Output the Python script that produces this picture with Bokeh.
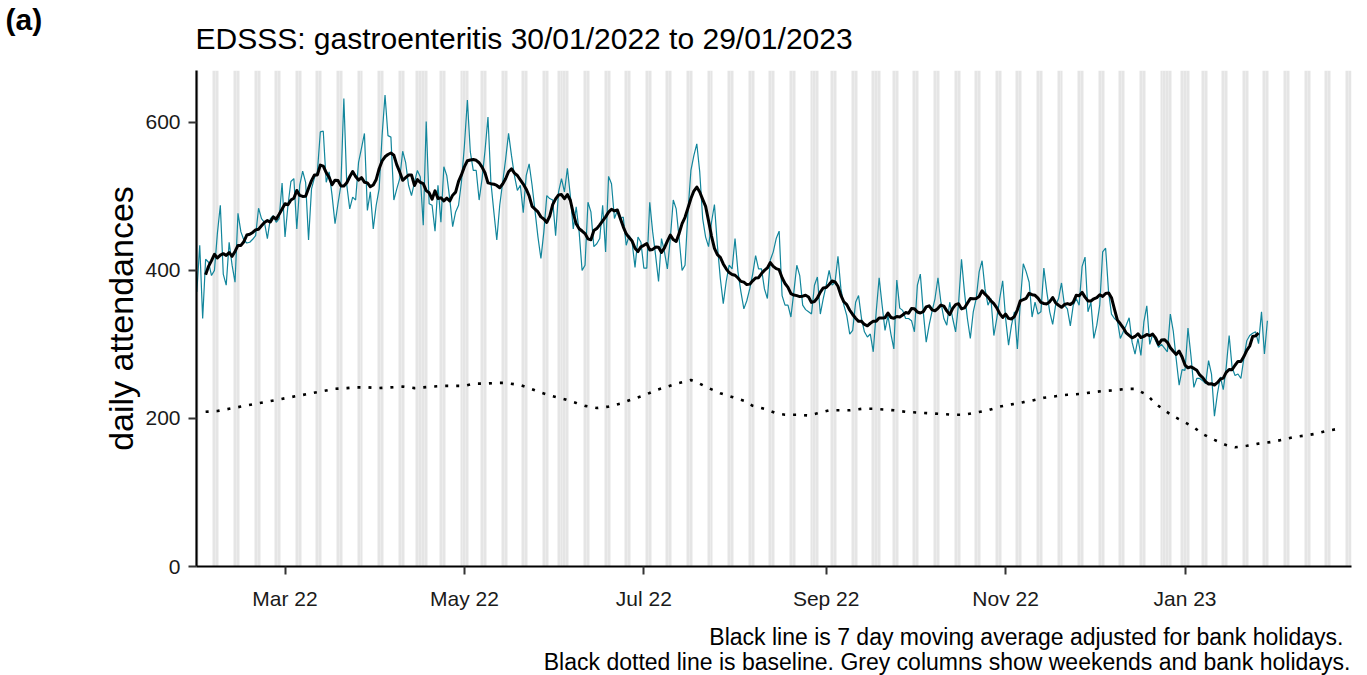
import numpy as np
import pandas as pd
from bokeh.plotting import figure
from bokeh.layouts import column
from bokeh.models import Range1d, FixedTicker, Label
from bokeh.embed import file_html
from bokeh.resources import INLINE

# ---------------- data ----------------
start_date = "2022-01-30"          # first day of the daily series (a Sunday)
axis_end_date = "2023-02-26"       # x axis runs on past the data
panel_tag = "(a)"
title_text = "EDSSS: gastroenteritis 30/01/2022 to 29/01/2023"

# daily attendances, one row per week (Sun..Sat)
daily = [
    371, 434, 335, 415, 411, 393, 400,
    450, 488, 395, 380, 438, 407, 384,
    477, 452, 441, 437, 438, 442, 447,
    484, 470, 465, 443, 470, 474, 465,
    470, 518, 445, 488, 520, 524, 456,
    515, 534, 519, 441, 510, 525, 533,
    587, 588, 519, 533, 501, 463, 490,
    515, 632, 515, 483, 499, 495, 546,
    565, 585, 481, 506, 456, 488, 510,
    582, 637, 582, 580, 495, 510, 524,
    561, 546, 515, 501, 519, 535, 526,
    461, 601, 490, 488, 453, 515, 465,
    540, 528, 497, 459, 479, 488, 520,
    569, 630, 560, 535, 535, 495, 524,
    562, 607, 519, 479, 441, 488, 519,
    550, 585, 555, 528, 508, 515, 478,
    528, 544, 515, 480, 445, 416, 452,
    501, 497, 495, 447, 506, 524, 506,
    538, 501, 456, 486, 452, 400, 407,
    492, 479, 432, 436, 443, 488, 425,
    527, 517, 470, 481, 470, 472, 434,
    447, 438, 404, 445, 438, 403, 403,
    492, 452, 420, 385, 443, 425, 402,
    443, 495, 483, 443, 400, 407, 479,
    535, 555, 571, 533, 470, 445, 432,
    465, 489, 434, 389, 355, 385, 407,
    402, 443, 398, 371, 348, 359, 375,
    395, 420, 402, 402, 375, 362, 414,
    425, 443, 453, 366, 353, 353, 337,
    371, 407, 393, 353, 347, 344, 341,
    380, 391, 341, 362, 380, 400, 380,
    384, 419, 375, 353, 339, 314, 319,
    357, 366, 335, 317, 310, 314, 290,
    344, 390, 353, 319, 339, 314, 294,
    387, 349, 346, 335, 335, 332, 317,
    380, 395, 344, 303, 326, 345, 362,
    390, 357, 335, 326, 357, 335, 317,
    355, 415, 371, 335, 308, 344, 362,
    398, 413, 375, 353, 362, 312, 335,
    362, 386, 335, 299, 326, 344, 294,
    357, 409, 398, 384, 337, 357, 341,
    344, 403, 371, 344, 327, 353, 362,
    383, 353, 348, 325, 353, 362, 353,
    405, 418, 344, 357, 308, 326, 353,
    425, 430, 371, 341, 335, 332, 308,
    317, 326, 336, 303, 287, 308, 285,
    330, 352, 300, 314, 305, 296, 300,
    295, 290, 341, 318, 280, 245, 266,
    265, 322, 285, 242, 254, 254, 251,
    247, 278, 260, 203, 233, 256, 239,
    269, 312, 269, 258, 260, 254, 281,
    305, 312, 315, 317, 301, 344, 287,
    332,
]

# baseline (day offset from start_date, value)
baseline_day = [3, 7, 11, 15, 19, 23, 27, 31, 35, 39, 43, 47, 51, 54, 58, 62, 66, 70,
                74, 80, 84, 87, 91, 94, 98, 102, 105, 110, 113, 117, 121, 125, 129,
                132, 136, 140, 144, 148, 152, 156, 160, 163, 168, 171, 174, 178, 182,
                186, 189, 193, 197, 200, 204, 208, 211, 215, 219, 222, 226, 230, 234,
                237, 241, 245, 249, 253, 257, 261, 265, 269, 273, 277, 281, 284, 288,
                292, 296, 300, 304, 308, 312, 316, 319, 323, 326, 329, 332, 335, 339,
                342, 346, 350, 353, 357, 361, 365, 369, 373, 377, 380, 384, 388]
baseline_value = [209, 210, 213, 216, 219, 222, 225, 228, 231, 234, 237, 240, 241, 242,
                  242, 241, 242, 243, 241, 243, 244, 244, 244, 247, 247, 248, 248, 245,
                  241, 235, 230, 226, 221, 217, 214, 216, 220, 226, 231, 238, 243, 247,
                  252, 247, 241, 234, 229, 224, 217, 213, 207, 205, 205, 204, 207, 211,
                  211, 211, 213, 213, 212, 211, 209, 208, 207, 206, 205, 205, 208, 211,
                  216, 219, 222, 224, 228, 230, 232, 233, 235, 237, 238, 240, 240, 232,
                  220, 211, 203, 197, 188, 179, 171, 164, 161, 163, 166, 168, 171, 175,
                  177, 179, 183, 186]

bank_holidays = ["2022-04-15", "2022-04-18", "2022-05-02", "2022-06-02", "2022-06-03",
                 "2022-08-29", "2022-09-19", "2022-12-26", "2022-12-27", "2023-01-02"]

tick_dates = ["2022-03-01", "2022-05-01", "2022-07-01", "2022-09-01", "2022-11-01", "2023-01-01"]
tick_labels = ["Mar 22", "May 22", "Jul 22", "Sep 22", "Nov 22", "Jan 23"]
y_ticks = [0, 200, 400, 600]

footnote_1 = "Black line is 7 day moving average adjusted for bank holidays."
footnote_2 = "Black dotted line is baseline. Grey columns show weekends and bank holidays."

# ---------------- derived ----------------
start = pd.Timestamp(start_date)
days = np.arange(len(daily))
ma = pd.Series(daily, dtype=float).rolling(7, center=True).mean()

all_days = pd.date_range(start, axis_end_date)
bh = set(pd.to_datetime(bank_holidays))
grey_x = np.array([(d - start).days for d in all_days if d.dayofweek >= 5 or d in bh], dtype=float)

tick_x = [(pd.Timestamp(t) - start).days for t in tick_dates]
x_end = (pd.Timestamp(axis_end_date) - start).days + 0.6

FONT = "Liberation Sans"
W = 1367
TOP_H, MAIN_H, BOT_H = 70, 545, 60


def text_strip(h):
    f = figure(width=W, height=h, output_backend="svg", toolbar_location=None,
               x_axis_type=None, y_axis_type=None, title=None,
               x_range=Range1d(0, W), y_range=Range1d(0, h),
               min_border_left=0, min_border_right=0, min_border_top=0, min_border_bottom=0)
    f.outline_line_color = None
    f.background_fill_color = "white"
    f.frame_align = False
    return f


# ---- header: panel tag and title ----
top = text_strip(TOP_H)
top.add_layout(Label(x=5, y=51, text=panel_tag, text_font=FONT,
                     text_font_size="30px", text_font_style="bold", text_color="black",
                     text_baseline="alphabetic"))
top.add_layout(Label(x=195, y=32, text=title_text, text_font=FONT,
                     text_font_size="30px", text_color="black", text_baseline="alphabetic"))

# ---- main plot ----
p = figure(width=W, height=MAIN_H, output_backend="svg", toolbar_location=None,
           title=None, x_range=Range1d(-0.1, x_end), y_range=Range1d(0, 670),
           min_border_left=196, min_border_right=16, min_border_top=0, min_border_bottom=49)
p.frame_align = False
p.outline_line_color = None
p.xgrid.visible = False
p.ygrid.visible = False
p.background_fill_color = "white"

# weekend / bank-holiday columns
p.vstrip(x0=grey_x - 0.5, x1=grey_x + 0.5, fill_color="#E5E5E5", line_color=None)

# daily series, 7-day average, baseline
p.line(days, daily, line_color="#12869C", line_width=1.2)
p.line(days, ma, line_color="black", line_width=3, line_join="round")
p.line(baseline_day, baseline_value, line_color="black", line_width=2.6,
       line_dash="3 8", line_cap="butt")

for ax in (p.xaxis, p.yaxis):
    ax.axis_line_width = 2.2
    ax.axis_line_color = "black"
    ax.major_tick_line_width = 2
    ax.major_tick_line_color = "#333333"
    ax.major_tick_out = 8
    ax.major_tick_in = 0
    ax.minor_tick_line_color = None
    ax.major_label_text_font = FONT
    ax.major_label_text_font_size = "21px"
    ax.major_label_text_color = "#1A1A1A"

p.xaxis.ticker = FixedTicker(ticks=tick_x)
p.xaxis.major_label_overrides = {t: l for t, l in zip(tick_x, tick_labels)}
p.xaxis.major_label_standoff = 12
p.yaxis.ticker = FixedTicker(ticks=y_ticks)
p.yaxis.major_label_standoff = 8
p.yaxis.axis_label = "daily attendances"
p.yaxis.axis_label_text_font = FONT
p.yaxis.axis_label_text_font_size = "34px"
p.yaxis.axis_label_text_font_style = "normal"
p.yaxis.axis_label_text_color = "black"
p.yaxis.axis_label_standoff = 2

# ---- footer: caption lines ----
bot = text_strip(BOT_H)
bot.add_layout(Label(x=1343, y=39, text=footnote_1, text_font=FONT,
                     text_font_size="23px", text_color="black", text_align="right",
                     text_baseline="alphabetic"))
bot.add_layout(Label(x=1350, y=14, text=footnote_2, text_font=FONT,
                     text_font_size="23px", text_color="black", text_align="right",
                     text_baseline="alphabetic"))

layout = column(top, p, bot, spacing=0)
open("out.html", "w").write(file_html(layout, INLINE))
